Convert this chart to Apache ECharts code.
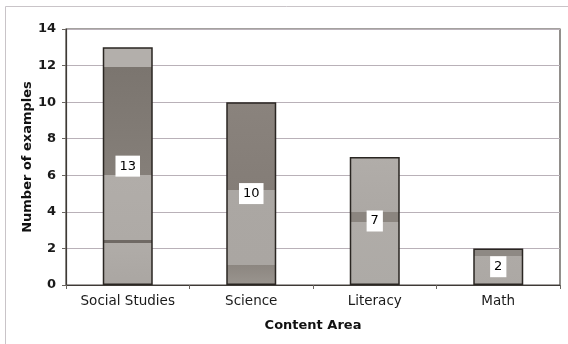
<!DOCTYPE html>
<html>
<head>
<meta charset="utf-8">
<script src="https://cdn.jsdelivr.net/npm/echarts@6/dist/echarts.min.js"></script>
<style>
  html, body { margin: 0; padding: 0; background: #ffffff; }
  #chart { width: 568px; height: 344px; }
</style>
</head>
<body>
<div id="chart"></div>
<script>
// Examples per content area
const categories = ['Social Studies', 'Science', 'Literacy', 'Math'];
const counts = [13, 10, 7, 2];
const yTicks = [0, 2, 4, 6, 8, 10, 12, 14];

// Mottled grey fills for each bar (top → bottom)
function shade(stops) {
  return new echarts.graphic.LinearGradient(0, 0, 0, 1, stops);
}
const fills = [
  shade([
    { offset: 0, color: '#b3afab' }, { offset: 0.085, color: '#b3afab' },
    { offset: 0.085, color: '#7b756f' }, { offset: 0.538, color: '#857f79' },
    { offset: 0.538, color: '#b1ada9' }, { offset: 0.81, color: '#aeaaa6' },
    { offset: 0.81, color: '#6f6964' }, { offset: 0.825, color: '#6f6964' },
    { offset: 0.825, color: '#b0aca8' }, { offset: 1, color: '#aaa6a2' }
  ]),
  shade([
    { offset: 0, color: '#8a837d' }, { offset: 0.48, color: '#847d77' },
    { offset: 0.48, color: '#aba7a3' }, { offset: 0.89, color: '#aaa6a2' },
    { offset: 0.89, color: '#8c8680' }, { offset: 1, color: '#9a958f' }
  ]),
  shade([
    { offset: 0, color: '#b1ada9' }, { offset: 0.43, color: '#aca8a4' },
    { offset: 0.43, color: '#8b857f' }, { offset: 0.51, color: '#8b857f' },
    { offset: 0.51, color: '#b0aca8' }, { offset: 1, color: '#adaaa6' }
  ]),
  shade([
    { offset: 0, color: '#8e8984' }, { offset: 0.2, color: '#8e8984' },
    { offset: 0.2, color: '#aeaaa6' }, { offset: 1, color: '#aca8a4' }
  ])
];

const FONT = '"DejaVu Sans", Verdana, sans-serif';

const chart = echarts.init(document.getElementById('chart'), null, { renderer: 'canvas' });
chart.setOption({
  backgroundColor: '#ffffff',
  animation: false,
  grid: {
    left: 66, right: 8, top: 29, bottom: 59,
    show: true, borderColor: '#4a4540', borderWidth: 1.2, backgroundColor: 'transparent'
  },
  graphic: [
    { type: 'polyline', silent: true,
      shape: { points: [[5.5, 344], [5.5, 6.5], [568, 6.5]] },
      style: { stroke: '#c9c4c8', lineWidth: 1, fill: null } }
  ],
  xAxis: {
    type: 'category',
    data: categories,
    name: 'Content Area',
    nameLocation: 'middle',
    nameGap: 34,
    nameTextStyle: { fontFamily: FONT, fontWeight: 'bold', fontSize: 13, color: '#111' },
    axisLine: { lineStyle: { color: '#3e3a36', width: 1.2 } },
    axisTick: { show: true, length: 4, lineStyle: { color: '#6a6560' } },
    axisLabel: { fontFamily: FONT, fontSize: 13.5, color: '#1a1a1a', margin: 9 }
  },
  yAxis: {
    type: 'value',
    min: 0, max: 14, interval: 2,
    name: 'Number of examples',
    nameLocation: 'middle',
    nameGap: 32,
    nameMoveOverlap: false,
    nameTextStyle: { fontFamily: FONT, fontWeight: 'bold', fontSize: 13, color: '#111' },
    axisLine: { show: true, lineStyle: { color: '#3e3a36', width: 1.2 } },
    axisTick: { show: true, length: 4, lineStyle: { color: '#6a6560' } },
    axisLabel: {
      fontFamily: FONT, fontSize: 13, fontWeight: 'bold', color: '#1a1a1a', margin: 10,
      formatter: v => (yTicks.includes(v) ? String(v) : '')
    },
    splitLine: { show: true, lineStyle: { color: '#b9b1b8', width: 1 } }
  },
  series: [{
    type: 'bar',
    barWidth: 50,
    data: counts.map((v, i) => ({
      value: v,
      itemStyle: { color: fills[i], borderColor: '#2a2622', borderWidth: 1.5 }
    })),
    label: {
      show: true,
      position: 'inside',
      fontFamily: FONT,
      fontSize: 13,
      color: '#000',
      backgroundColor: '#ffffff',
      padding: [5, 4, 3, 4]
    }
  }]
});
</script>
</body>
</html>
